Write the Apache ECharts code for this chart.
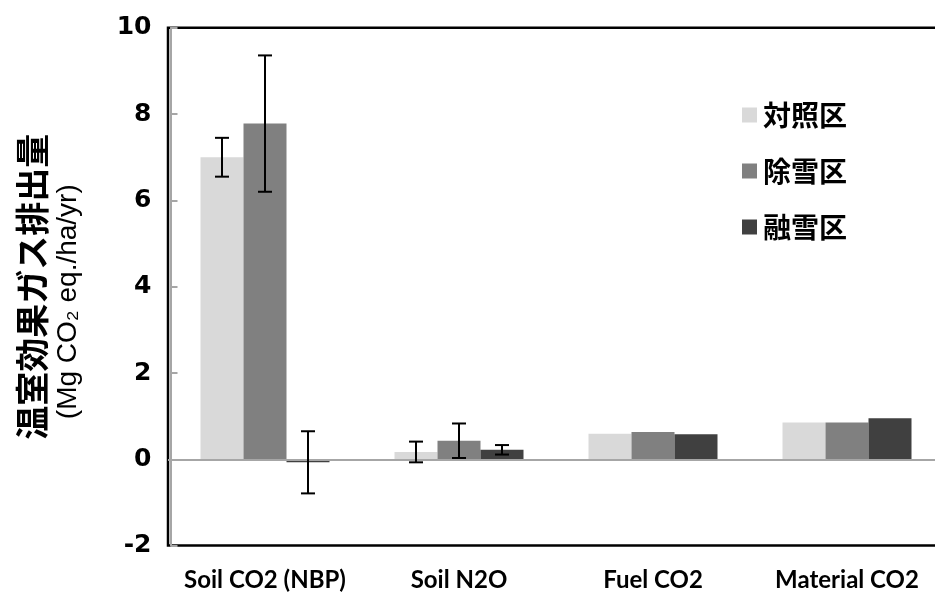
<!DOCTYPE html>
<html>
<head>
<meta charset="utf-8">
<script src="https://cdn.jsdelivr.net/npm/echarts@6/dist/echarts.min.js"></script>
<style>
html,body{margin:0;padding:0;background:#fff;}
#chart{width:935px;height:608px;}
</style>
</head>
<body>
<div id="chart"></div>
<script>
var categories = ['Soil CO2 (NBP)', 'Soil N2O', 'Fuel CO2', 'Material CO2'];
var seriesNames = ['対照区', '除雪区', '融雪区'];
var controlVals = [7.0, 0.17, 0.59, 0.85];
var removalVals = [7.78, 0.43, 0.63, 0.85];
var meltingVals = [-0.07, 0.22, 0.58, 0.95];
var controlErr = [0.45, 0.24, null, null];
var removalErr = [1.58, 0.40, null, null];
var meltingErr = [0.72, 0.11, null, null];
var yTicks = [-2, 0, 2, 4, 6, 8, 10];

var colors = ['#d9d9d9', '#808080', '#404040'];
var BAR_W = 43;

var chart = echarts.init(document.getElementById('chart'), null, {renderer: 'canvas'});

function errData(vals, errs) {
  var out = [];
  for (var i = 0; i < vals.length; i++) {
    if (errs[i] != null) out.push([i, vals[i] - errs[i], vals[i] + errs[i]]);
  }
  return out;
}

function errSeries(name, vals, errs, k) {
  return {
    name: name,
    type: 'custom',
    z: 10,
    silent: true,
    data: errData(vals, errs),
    encode: {x: 0, y: [1, 2]},
    renderItem: function (params, api) {
      var ci = api.value(0);
      var lo = api.coord([ci, api.value(1)]);
      var hi = api.coord([ci, api.value(2)]);
      var x = lo[0] + (k - 1) * BAR_W;
      var cap = 7;
      var st = {stroke: '#000', lineWidth: 2};
      return {
        type: 'group',
        children: [
          {type: 'line', shape: {x1: x, y1: hi[1], x2: x, y2: lo[1]}, style: st},
          {type: 'line', shape: {x1: x - cap, y1: hi[1], x2: x + cap, y2: hi[1]}, style: st},
          {type: 'line', shape: {x1: x - cap, y1: lo[1], x2: x + cap, y2: lo[1]}, style: st}
        ]
      };
    }
  };
}

var option = {
  backgroundColor: '#fff',
  animation: false,
  grid: {
    left: 168, top: 27.8, right: -9, bottom: 62.4,
    outerBoundsMode: 'none',
    containLabel: false,
    show: true, borderColor: '#000', borderWidth: 2.5, backgroundColor: 'transparent'
  },
  legend: {
    data: seriesNames,
    orient: 'vertical',
    left: 737, top: 96,
    itemWidth: 15, itemHeight: 15,
    itemGap: 28,
    icon: 'rect',
    textStyle: {fontFamily: 'Noto Sans CJK JP', fontWeight: 'bold', fontSize: 28, color: '#000', padding: [0, 0, 0, 1]}
  },
  xAxis: {
    type: 'category',
    data: categories,
    axisLine: {show: false, onZero: false},
    axisTick: {show: false},
    axisLabel: {
      interval: 0,
      margin: 23,
      fontFamily: 'Lato', fontWeight: 'bold', fontSize: 24, color: '#000'
    },
    splitLine: {show: false}
  },
  yAxis: {
    type: 'value',
    min: -2, max: 10, interval: 2,
    offset: -2.5,
    axisLine: {show: true, lineStyle: {color: '#a6a6a6', width: 2}},
    axisTick: {show: true, inside: true, length: 7, lineStyle: {color: '#a6a6a6', width: 2}},
    axisLabel: {
      margin: 19,
      fontFamily: 'DejaVu Sans', fontWeight: 'bold', fontSize: 25, color: '#000',
      formatter: function (v) { return yTicks.indexOf(v) >= 0 ? String(v) : ''; }
    },
    splitLine: {show: false},
    name: '{jp|温室効果ガス排出量}\n{unit|(Mg CO₂ eq./ha/yr)}',
    nameLocation: 'middle',
    nameRotate: 90,
    nameGap: 86,
    nameTextStyle: {
      align: 'center',
      fontSize: 28,
      fontFamily: 'Liberation Sans',
      color: '#000',
      rich: {
        jp: {fontFamily: 'Noto Sans CJK JP', fontWeight: 'bold', fontSize: 34, color: '#000', lineHeight: 40},
        unit: {fontFamily: 'Liberation Sans', fontWeight: 'normal', fontSize: 28, color: '#000', lineHeight: 32, padding: [0, 30, 0, 0]}
      }
    }
  },
  series: [
    {
      name: seriesNames[0], type: 'bar', data: controlVals, barWidth: BAR_W, barGap: '0%',
      itemStyle: {color: colors[0]},
      markLine: {
        silent: true, symbol: 'none', label: {show: false},
        lineStyle: {color: '#a6a6a6', width: 2, type: 'solid'},
        data: [{yAxis: 0}]
      }
    },
    {name: seriesNames[1], type: 'bar', data: removalVals, barWidth: BAR_W, barGap: '0%', itemStyle: {color: colors[1]}},
    {name: seriesNames[2], type: 'bar', data: meltingVals, barWidth: BAR_W, barGap: '0%', itemStyle: {color: colors[2]}},
    errSeries('err0', controlVals, controlErr, 0),
    errSeries('err1', removalVals, removalErr, 1),
    errSeries('err2', meltingVals, meltingErr, 2)
  ]
};
chart.setOption(option);
</script>
</body>
</html>
